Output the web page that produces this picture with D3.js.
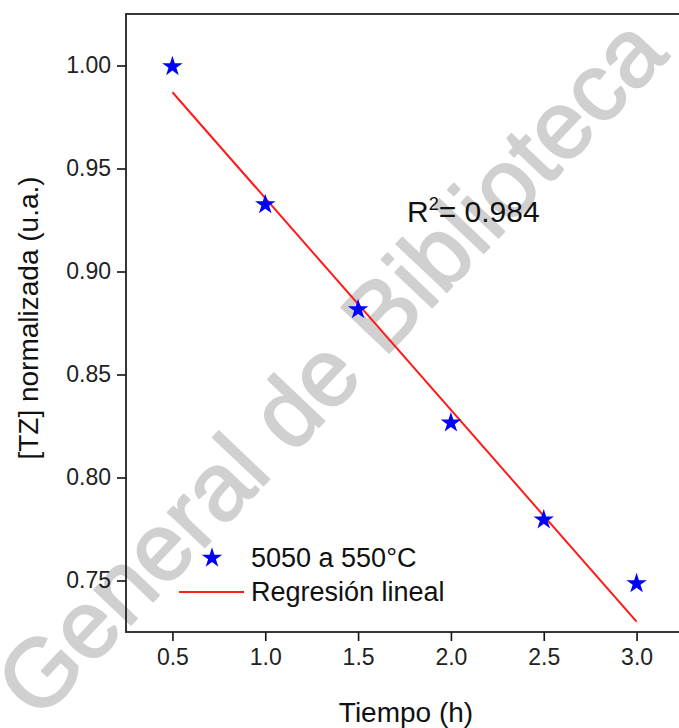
<!DOCTYPE html>
<html>
<head>
<meta charset="utf-8">
<script src="https://cdn.jsdelivr.net/npm/d3@7"></script>
<style>
  body { margin: 0; background: #fff; }
  svg { font-family: "Liberation Sans", Arial, sans-serif; }
</style>
</head>
<body>
<svg id="chart" width="679" height="728"></svg>
<script>
// data
var tiempo = [0.5, 1.0, 1.5, 2.0, 2.5, 3.0];
var tzNorm = [1.000, 0.933, 0.882, 0.827, 0.780, 0.749];
var fitX = [0.5, 3.0];
var fitY = [0.987, 0.730];
var xTicks = [0.5, 1.0, 1.5, 2.0, 2.5, 3.0];
var yTicks = [0.75, 0.80, 0.85, 0.90, 0.95, 1.00];
var legendLabels = ["5050 a 550°C", "Regresión lineal"];

var dim = {l: 126, t: 14, r: 683, b: 632};

var svg = d3.select("#chart");

// watermark behind everything
svg.append("text")
  .attr("transform", "translate(336,372) rotate(-46.5)")
  .attr("text-anchor", "middle")
  .attr("dominant-baseline", "middle")
  .attr("font-size", 96)
  .attr("fill", "#d0d0d0")
  .attr("stroke", "#d0d0d0")
  .attr("stroke-width", 2)
  .attr("stroke-linejoin", "round")
  .text("General de Biblioteca");

var x = d3.scaleLinear().domain([0.25, 3.25]).range([dim.l, dim.r]);
var y = d3.scaleLinear().domain([0.725, 1.025]).range([dim.b, dim.t]);

// x axis
var gx = svg.append("g")
  .attr("transform", "translate(0," + dim.b + ")")
  .call(d3.axisBottom(x).tickValues(xTicks).tickFormat(d3.format(".1f")).tickSizeOuter(0).tickSize(9).tickPadding(8));
gx.select(".domain").remove();
gx.selectAll("line").attr("stroke", "#111").attr("stroke-width", 1.6);
gx.selectAll("text").attr("font-size", 23).attr("fill", "#222").attr("font-family", "Liberation Sans, Arial, sans-serif");

// y axis
var gy = svg.append("g")
  .attr("transform", "translate(" + dim.l + ",0)")
  .call(d3.axisLeft(y).tickValues(yTicks).tickFormat(d3.format(".2f")).tickSizeOuter(0).tickSize(9).tickPadding(6));
gy.select(".domain").remove();
gy.selectAll("line").attr("stroke", "#111").attr("stroke-width", 1.6);
gy.selectAll("text").attr("font-size", 23).attr("fill", "#222").attr("font-family", "Liberation Sans, Arial, sans-serif");

// frame
svg.append("rect")
  .attr("x", dim.l).attr("y", dim.t)
  .attr("width", dim.r - dim.l).attr("height", dim.b - dim.t)
  .attr("fill", "none").attr("stroke", "#222").attr("stroke-width", 1.8);

// regression line
svg.append("line")
  .attr("x1", x(fitX[0])).attr("y1", y(fitY[0]))
  .attr("x2", x(fitX[1])).attr("y2", y(fitY[1]))
  .attr("stroke", "#ff1a1a").attr("stroke-width", 2);

// points
var star = d3.symbol().type(d3.symbolStar).size(130);
svg.selectAll(".pt")
  .data(tiempo)
  .join("path")
  .attr("class", "pt")
  .attr("d", star)
  .attr("transform", function(d, i) { return "translate(" + x(d) + "," + (y(tzNorm[i]) + 1) + ")"; })
  .attr("fill", "#0000ff");

// R2 label
var r2 = svg.append("text")
  .attr("x", 407).attr("y", 222)
  .attr("font-size", 30).attr("fill", "#111");
r2.append("tspan").text("R");
r2.append("tspan").attr("font-size", 18).attr("dy", -12).text("2");
r2.append("tspan").attr("dy", 12).text("= 0.984");

// legend
var lg = svg.append("g");
lg.append("path").attr("d", star)
  .attr("transform", "translate(212,558)")
  .attr("fill", "#0000ff");
lg.append("line")
  .attr("x1", 179).attr("x2", 244)
  .attr("y1", 592).attr("y2", 592)
  .attr("stroke", "#ff1a1a").attr("stroke-width", 2.2);
lg.selectAll("text")
  .data(legendLabels)
  .join("text")
  .attr("x", 251)
  .attr("y", function(d, i) { return 567 + i * 34; })
  .attr("font-size", 27).attr("fill", "#111")
  .text(function(d) { return d; });

// axis titles
svg.append("text")
  .attr("x", 406).attr("y", 722)
  .attr("text-anchor", "middle")
  .attr("font-size", 28).attr("fill", "#111")
  .text("Tiempo (h)");

svg.append("text")
  .attr("transform", "translate(38,318) rotate(-90)")
  .attr("text-anchor", "middle")
  .attr("font-size", 28).attr("fill", "#111")
  .text("[TZ] normalizada (u.a.)");
</script>
</body>
</html>
